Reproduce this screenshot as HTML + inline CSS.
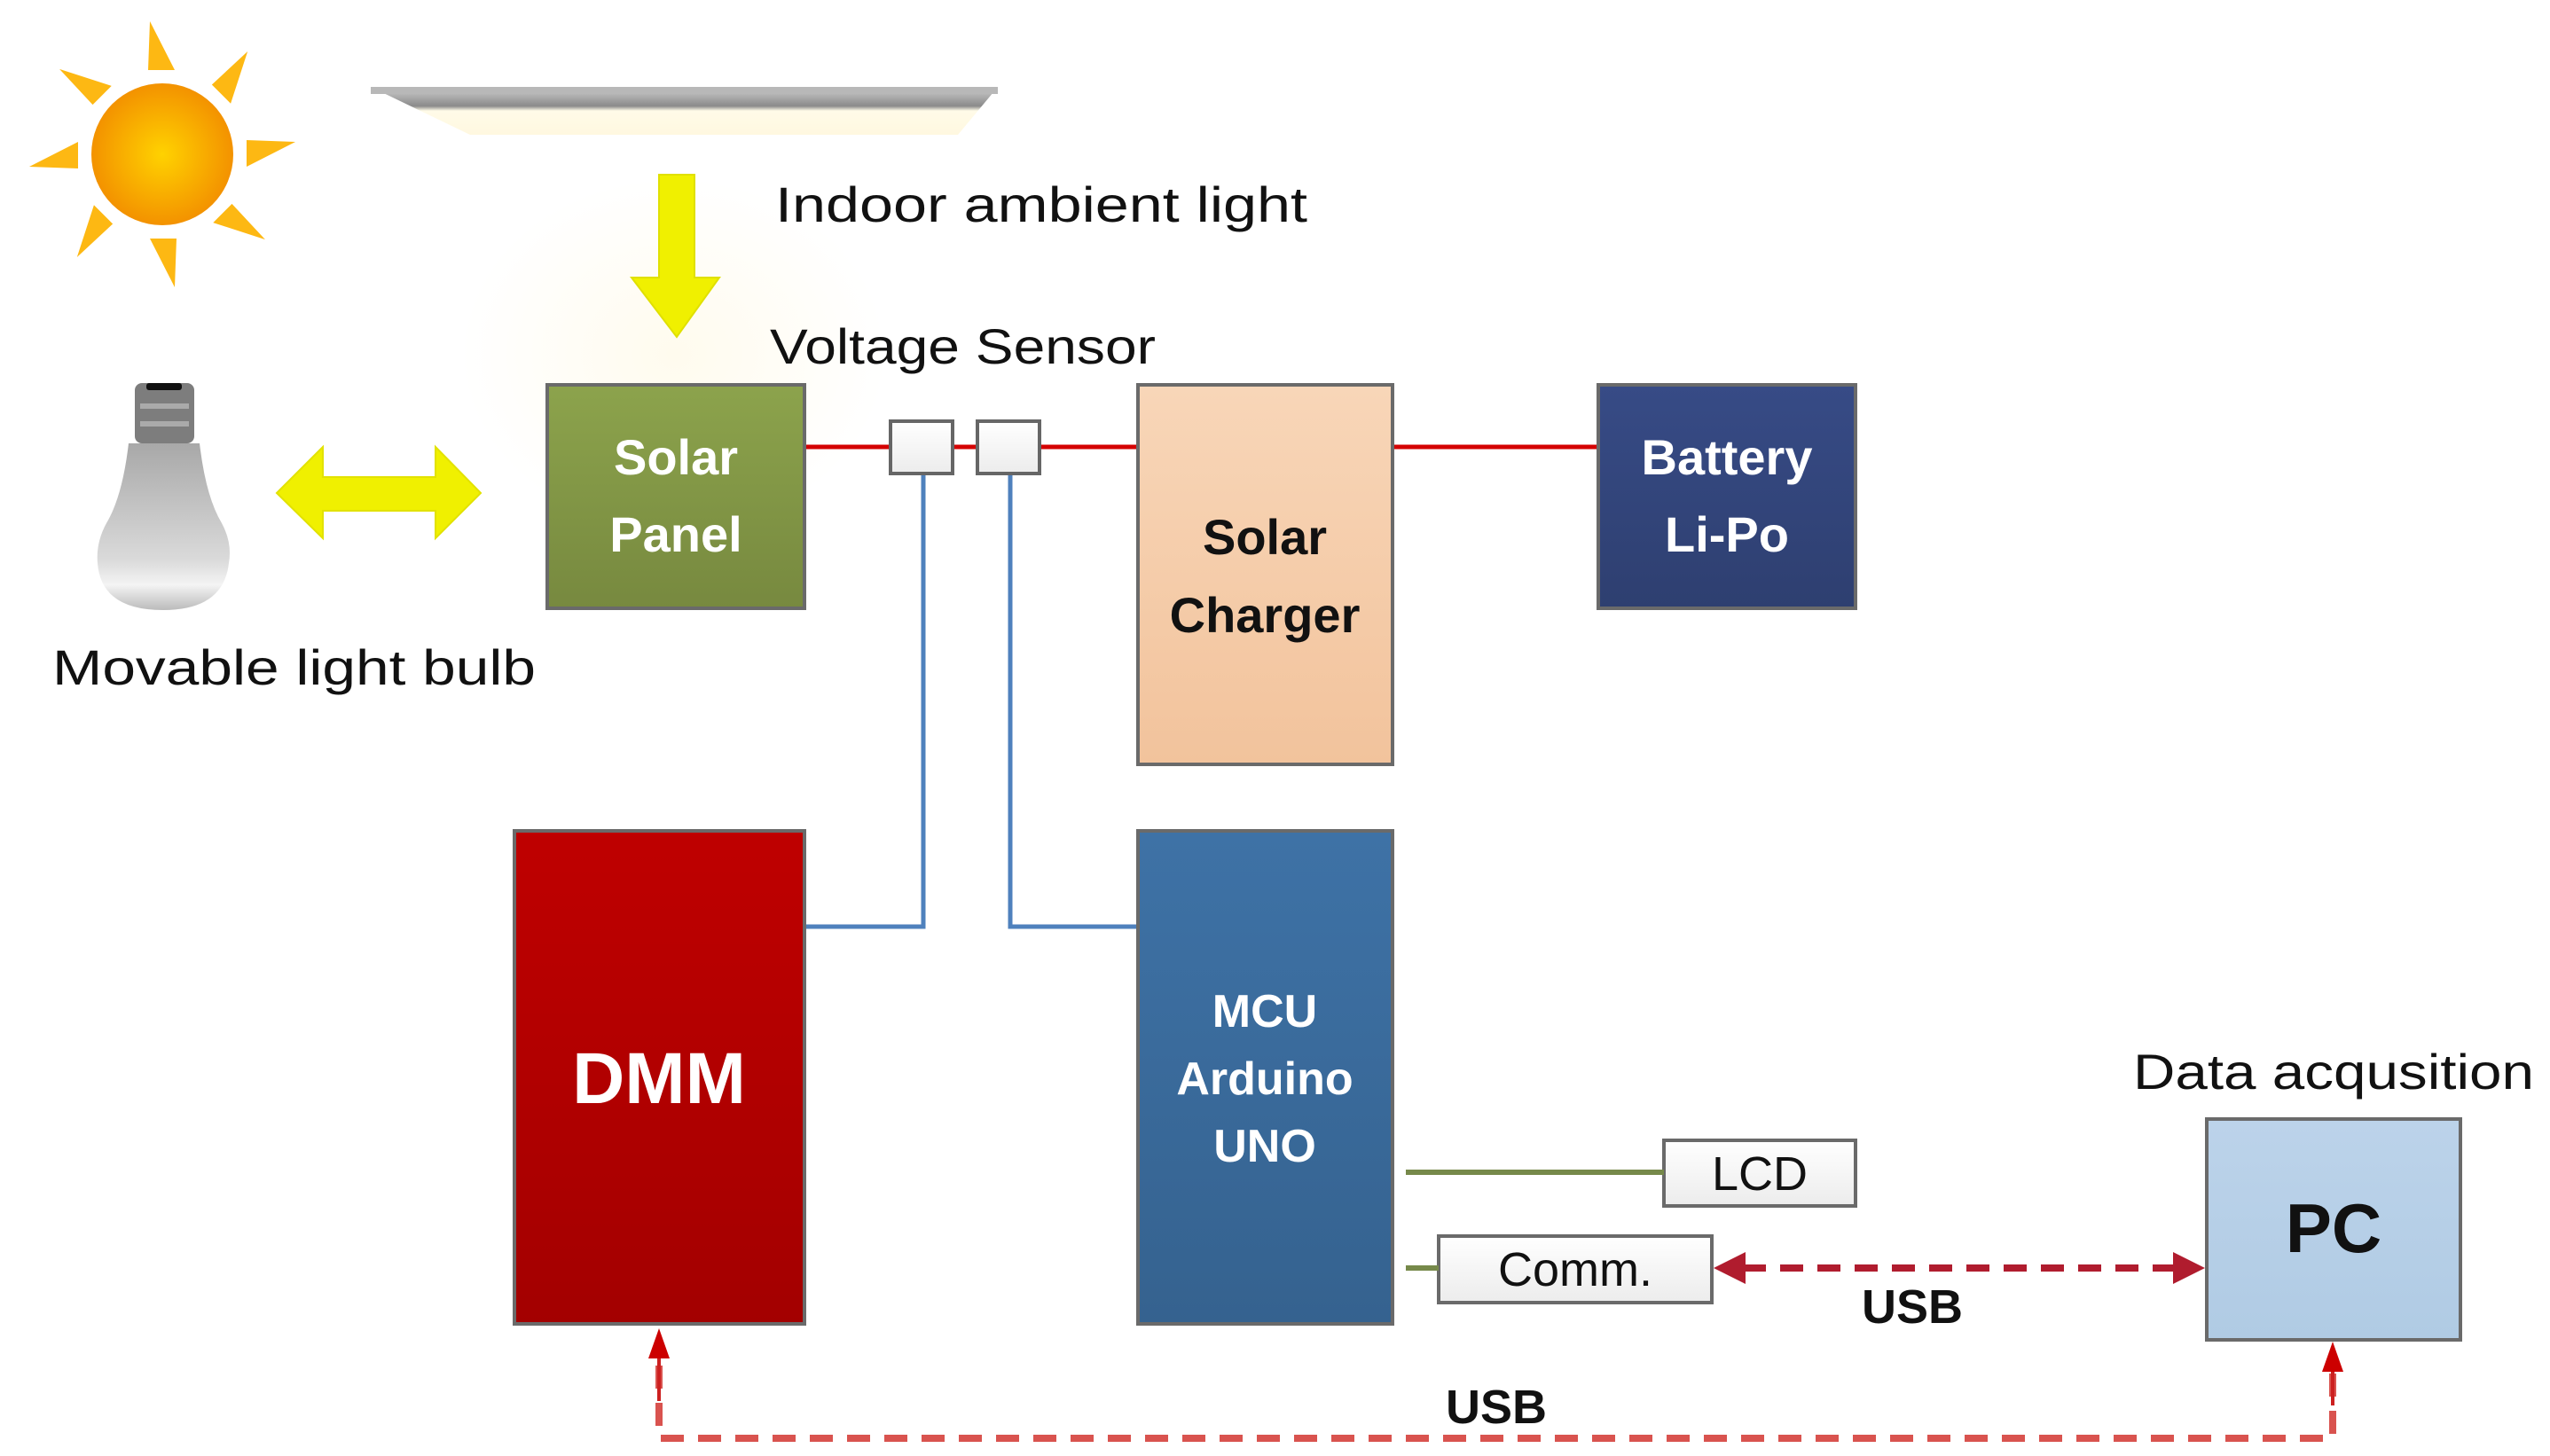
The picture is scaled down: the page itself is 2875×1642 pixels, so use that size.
<!DOCTYPE html>
<html><head><meta charset="utf-8"><style>
html,body{margin:0;padding:0;background:#fff;}
svg{display:block;}
text{font-family:"Liberation Sans",sans-serif;}
</style></head><body>
<svg width="2875" height="1642" viewBox="0 0 2875 1642" xmlns="http://www.w3.org/2000/svg">
<defs>
<radialGradient id="sun" cx="0.5" cy="0.5" r="0.5"><stop offset="0" stop-color="#ffd200"/><stop offset="1" stop-color="#f39200"/></radialGradient>
<linearGradient id="bulb" x1="0" y1="0" x2="0" y2="1"><stop offset="0" stop-color="#a8a8a8"/><stop offset="0.7" stop-color="#dadada"/><stop offset="0.85" stop-color="#f4f4f4"/><stop offset="1" stop-color="#bbb"/></linearGradient>
<linearGradient id="g" x1="0" y1="0" x2="0" y2="1"><stop offset="0" stop-color="#8ca34c"/><stop offset="1" stop-color="#77893f"/></linearGradient>
<linearGradient id="o" x1="0" y1="0" x2="0" y2="1"><stop offset="0" stop-color="#f8d6b8"/><stop offset="1" stop-color="#f2c39c"/></linearGradient>
<linearGradient id="b" x1="0" y1="0" x2="0" y2="1"><stop offset="0" stop-color="#374b86"/><stop offset="1" stop-color="#2e3f70"/></linearGradient>
<linearGradient id="r" x1="0" y1="0" x2="0" y2="1"><stop offset="0" stop-color="#bf0000"/><stop offset="1" stop-color="#a30000"/></linearGradient>
<linearGradient id="m" x1="0" y1="0" x2="0" y2="1"><stop offset="0" stop-color="#3e72a6"/><stop offset="1" stop-color="#35628f"/></linearGradient>
<linearGradient id="pc" x1="0" y1="0" x2="0" y2="1"><stop offset="0" stop-color="#bcd3ea"/><stop offset="1" stop-color="#b0cbe4"/></linearGradient>
<linearGradient id="w" x1="0" y1="0" x2="0" y2="1"><stop offset="0" stop-color="#ffffff"/><stop offset="1" stop-color="#ececec"/></linearGradient>
<linearGradient id="panel" x1="0" y1="0" x2="0" y2="1"><stop offset="0" stop-color="#d0d0d0"/><stop offset="0.4" stop-color="#8a8a8a"/><stop offset="0.5" stop-color="#fffbe8"/><stop offset="1" stop-color="#fff8e0"/></linearGradient>
<radialGradient id="glow" cx="0.5" cy="0.5" r="0.5"><stop offset="0" stop-color="#fffbee"/><stop offset="1" stop-color="#ffffff"/></radialGradient>
</defs>

<ellipse cx="760" cy="400" rx="240" ry="200" fill="url(#glow)"/>

<g fill="#fdb813">
<g transform="translate(183,174)">
<polygon points="-16,-95 14,-95 -14,-150" transform="rotate(0)"/>
<polygon points="-16,-95 14,-95 -14,-150" transform="rotate(45)"/>
<polygon points="-16,-95 14,-95 -14,-150" transform="rotate(90)"/>
<polygon points="-16,-95 14,-95 -14,-150" transform="rotate(135)"/>
<polygon points="-16,-95 14,-95 -14,-150" transform="rotate(180)"/>
<polygon points="-16,-95 14,-95 -14,-150" transform="rotate(225)"/>
<polygon points="-16,-95 14,-95 -14,-150" transform="rotate(270)"/>
<polygon points="-16,-95 14,-95 -14,-150" transform="rotate(315)"/>
</g></g>
<circle cx="183" cy="174" r="80" fill="url(#sun)"/>

<polygon points="418,98 1125,98 1080,152 530,152" fill="url(#panel)"/>
<polygon points="418,98 1125,98 1125,106 418,106" fill="#b8b8b8"/>

<polygon points="743,197 783,197 783,313 811,313 763,380 712,313 743,313" fill="#f0f000" stroke="#e0e000" stroke-width="2"/>

<text x="874" y="250" font-size="56" fill="#111" textLength="600" lengthAdjust="spacingAndGlyphs">Indoor ambient light</text>
<text x="868" y="410" font-size="56" fill="#111" textLength="435" lengthAdjust="spacingAndGlyphs">Voltage Sensor</text>

<rect x="152" y="432" width="67" height="68" rx="8" fill="#7d7d7d"/>
<rect x="165" y="432" width="40" height="8" rx="3" fill="#111"/>
<rect x="158" y="455" width="55" height="6" fill="#aaa"/>
<rect x="158" y="475" width="55" height="6" fill="#aaa"/>
<path d="M145,500 L225,500 Q232,560 250,590 Q262,612 258,635 Q252,688 184,688 Q114,688 110,635 Q108,612 120,590 Q138,560 145,500 Z" fill="url(#bulb)"/>
<text x="59" y="772" font-size="56" fill="#111" textLength="545" lengthAdjust="spacingAndGlyphs">Movable light bulb</text>

<polygon points="312,556 364,504 364,538 491,538 491,504 542,556 491,607 491,576 364,576 364,607" fill="#f0f000" stroke="#e2e200" stroke-width="2"/>

<line x1="907" y1="504" x2="1283" y2="504" stroke="#d40000" stroke-width="5"/>
<line x1="1570" y1="504" x2="1802" y2="504" stroke="#d40000" stroke-width="5"/>

<polyline points="1041,534 1041,1045 907,1045" fill="none" stroke="#4f81bd" stroke-width="5"/>
<polyline points="1139,534 1139,1045 1283,1045" fill="none" stroke="#4f81bd" stroke-width="5"/>

<rect x="1004" y="475" width="70" height="59" fill="url(#w)" stroke="#666" stroke-width="4"/>
<rect x="1102" y="475" width="70" height="59" fill="url(#w)" stroke="#666" stroke-width="4"/>

<g stroke="#6a6a6a" stroke-width="4">
<rect x="617" y="434" width="290" height="252" fill="url(#g)"/>
<rect x="1283" y="434" width="287" height="428" fill="url(#o)"/>
<rect x="1802" y="434" width="290" height="252" fill="url(#b)"/>
<rect x="580" y="937" width="327" height="556" fill="url(#r)"/>
<rect x="1283" y="937" width="287" height="556" fill="url(#m)"/>
<rect x="2488" y="1262" width="286" height="249" fill="url(#pc)"/>
<rect x="1876" y="1286" width="216" height="74" fill="url(#w)"/>
<rect x="1622" y="1394" width="308" height="75" fill="url(#w)"/>
</g>

<g font-weight="bold" text-anchor="middle" font-size="56">
<text x="762" y="535" fill="#fff">Solar</text>
<text x="762" y="622" fill="#fff">Panel</text>
<text x="1426" y="625" fill="#111">Solar</text>
<text x="1426" y="713" fill="#111">Charger</text>
<text x="1947" y="535" fill="#fff">Battery</text>
<text x="1947" y="622" fill="#fff">Li-Po</text>
<text x="743" y="1244" fill="#fff" font-size="82">DMM</text>
<text x="1426" y="1158" fill="#fff" font-size="52">MCU</text>
<text x="1426" y="1234" fill="#fff" font-size="52">Arduino</text>
<text x="1426" y="1310" fill="#fff" font-size="52">UNO</text>
<text x="2631" y="1412" fill="#111" font-size="78">PC</text>
</g>
<g text-anchor="middle" font-size="54" fill="#111">
<text x="1984" y="1342">LCD</text>
<text x="1776" y="1450">Comm.</text>
</g>
<text x="2405" y="1228" font-size="56" fill="#111" textLength="452" lengthAdjust="spacingAndGlyphs">Data acqusition</text>

<line x1="1585" y1="1322" x2="1876" y2="1322" stroke="#76894a" stroke-width="6"/>
<line x1="1585" y1="1430" x2="1622" y2="1430" stroke="#76894a" stroke-width="6"/>

<line x1="1965" y1="1430" x2="2455" y2="1430" stroke="#b01c2e" stroke-width="8" stroke-dasharray="26,16"/>
<polygon points="1932,1430 1968,1412 1968,1448" fill="#b01c2e"/>
<polygon points="2486,1430 2450,1412 2450,1448" fill="#b01c2e"/>
<text x="2156" y="1492" font-size="54" font-weight="bold" fill="#111" text-anchor="middle">USB</text>

<polyline points="743,1540 743,1622 2630,1622 2630,1545" fill="none" stroke="#d9534f" stroke-width="8" stroke-dasharray="26,16"/>
<line x1="743" y1="1530" x2="743" y2="1580" stroke="#cc2020" stroke-width="4"/>
<line x1="2630" y1="1535" x2="2630" y2="1585" stroke="#cc2020" stroke-width="4"/>
<polygon points="743,1498 731,1532 755,1532" fill="#cc0000"/>
<polygon points="2630,1513 2618,1547 2642,1547" fill="#cc0000"/>
<text x="1687" y="1605" font-size="54" font-weight="bold" fill="#111" text-anchor="middle">USB</text>
</svg>
</body></html>
